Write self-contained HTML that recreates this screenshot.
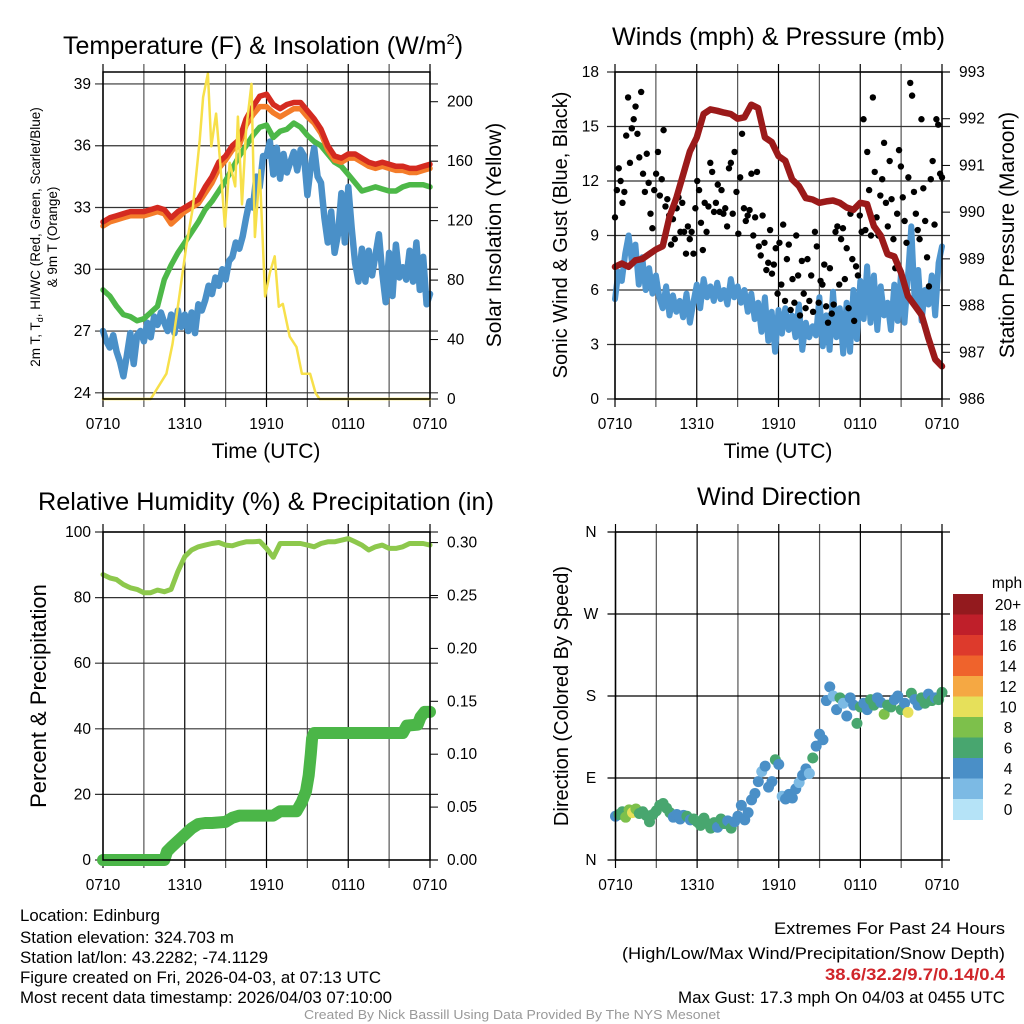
<!DOCTYPE html>
<html><head><meta charset="utf-8"><style>
html,body{margin:0;padding:0;background:#fff;}
svg{display:block;font-family:"Liberation Sans",sans-serif;}
</style></head><body>
<svg id="chart" width="1024" height="1024" viewBox="0 0 1024 1024" xmlns="http://www.w3.org/2000/svg">
<rect width="1024" height="1024" fill="#fff"/>
<g id="g1"></g>
<g id="g2"></g>
<g id="g3"></g>
<g id="g4"></g>
<text x="63" y="54" font-size="25">Temperature (F) &amp; Insolation (W/m<tspan font-size="15" dy="-10">2</tspan><tspan dy="10">)</tspan></text>
<text x="612" y="45" font-size="25" textLength="333" lengthAdjust="spacingAndGlyphs">Winds (mph) &amp; Pressure (mb)</text>
<text x="38" y="510" font-size="25" textLength="456" lengthAdjust="spacingAndGlyphs">Relative Humidity (%) &amp; Precipitation (in)</text>
<text x="697" y="505" font-size="25" textLength="164" lengthAdjust="spacingAndGlyphs">Wind Direction</text>
<g font-size="16.5">
<text x="20" y="921" textLength="140" lengthAdjust="spacingAndGlyphs">Location: Edinburg</text>
<text x="20" y="943" textLength="214" lengthAdjust="spacingAndGlyphs">Station elevation: 324.703 m</text>
<text x="20" y="963" textLength="248" lengthAdjust="spacingAndGlyphs">Station lat/lon: 43.2282; -74.1129</text>
<text x="20" y="983" textLength="361" lengthAdjust="spacingAndGlyphs">Figure created on Fri, 2026-04-03, at 07:13 UTC</text>
<text x="20" y="1003" textLength="372" lengthAdjust="spacingAndGlyphs">Most recent data timestamp: 2026/04/03 07:10:00</text>
</g>
<g font-size="17">
<text x="774" y="934" textLength="231" lengthAdjust="spacingAndGlyphs">Extremes For Past 24 Hours</text>
<text x="622" y="959" textLength="383" lengthAdjust="spacingAndGlyphs">(High/Low/Max Wind/Precipitation/Snow Depth)</text>
<text x="825" y="980" fill="#d0252a" font-weight="bold" textLength="180" lengthAdjust="spacingAndGlyphs">38.6/32.2/9.7/0.14/0.4</text>
<text x="678" y="1003" textLength="327" lengthAdjust="spacingAndGlyphs">Max Gust: 17.3 mph On 04/03 at 0455 UTC</text>
</g>
<text x="304" y="1019" font-size="13" fill="#999" textLength="416" lengthAdjust="spacingAndGlyphs">Created By Nick Bassill Using Data Provided By The NYS Mesonet</text>
</svg>
<script>
// ---------- data ----------
const xTickLabels = ["0710","1310","1910","0110","0710"];
const tempTicks = [24,27,30,33,36,39];
const solarTicks = [0,40,80,120,160,200];
const windTicks = [0,3,6,9,12,15,18];
const presTicks = [986,987,988,989,990,991,992,993];
const rhTicks = [0,20,40,60,80,100];
const precipTicks = [0,0.05,0.10,0.15,0.20,0.25,0.30];
const precipTickLabels = ["0.00","0.05","0.10","0.15","0.20","0.25","0.30"];
const dirTicks = [0,90,180,270,360];
const dirTickLabels = ["N","E","S","W","N"];
const speedBins = ["0","2","4","6","8","10","12","14","16","18","20+"];
const speedColors = ["#b5e3f7","#7cbae4","#4a8fc7","#48a66f","#7dc04b","#e6e05a","#f5a843","#ef632c","#dd3a2c","#bf1f2a","#931a1e"];

// temperatures at 30-min steps
const tempRed = [32.3,32.5,32.6,32.7,32.8,32.8,32.8,32.9,33.0,32.9,32.5,32.8,33.0,33.2,33.4,34.0,34.5,35.2,35.5,36.0,36.3,37.3,37.9,38.4,38.5,38.0,37.8,38.0,38.1,38.1,37.7,37.3,36.8,36.0,35.5,35.4,35.6,35.6,35.4,35.2,35.1,35.2,35.1,35.0,35.0,34.9,34.9,35.0,35.1];
const tempOrange = [32.1,32.3,32.4,32.5,32.6,32.6,32.6,32.7,32.8,32.7,32.2,32.5,32.8,33.0,33.2,33.7,34.2,34.9,35.3,35.8,36.0,37.0,37.5,37.9,37.9,37.6,37.4,37.6,37.8,37.8,37.4,37.1,36.6,35.8,35.3,35.2,35.4,35.4,35.2,35.0,34.9,35.0,34.9,34.8,34.8,34.7,34.7,34.8,34.9];
const tempGreen = [29.0,28.7,28.2,27.8,27.7,27.5,27.6,27.9,28.2,29.5,30.2,30.8,31.3,31.8,32.3,32.9,33.3,33.8,34.3,34.9,35.5,36.0,36.5,36.9,37.0,36.4,36.7,36.8,37.1,36.9,36.5,36.2,36.0,35.6,35.2,35.0,34.6,34.2,33.8,33.9,34.0,33.9,33.8,33.8,34.0,34.1,34.1,34.1,34.0];
// dewpoint at 15-min steps
const tempBlue = [27.0,26.5,26.2,26.8,26.0,25.5,24.8,25.8,26.9,25.4,26.8,27.0,26.5,27.4,26.7,27.7,27.3,27.9,27.4,27.0,27.8,26.9,28.0,27.2,27.8,27.0,27.9,26.9,28.3,28.0,28.5,29.2,28.8,29.6,29.2,30.0,29.5,30.4,30.6,31.3,31.0,31.6,32.5,33.3,33.0,34.5,34.0,35.5,35.5,36.2,34.6,35.9,34.4,35.6,34.7,35.2,35.7,34.8,35.8,35.5,33.6,35.0,35.9,34.5,34.2,32.5,31.3,32.8,30.8,31.7,33.7,31.3,34.0,32.0,30.3,29.4,31.0,29.4,30.9,29.7,30.7,31.7,29.8,28.4,30.8,28.7,31.2,29.6,30.1,29.5,30.9,29.4,31.3,29.0,30.6,28.3,28.8];
const solarHours = [0,3.5,4.65,5.1,5.6,6.1,6.6,7.1,7.35,7.7,7.95,8.3,8.6,8.95,9.3,9.7,9.9,10.2,10.5,10.9,11.15,11.5,11.9,12.25,12.6,12.9,13.2,13.7,14.2,14.6,15.2,15.6,15.9,24];
const solarVals = [0,0,17,37,69,102,129,174,203,219,170,192,159,116,159,143,190,131,181,212,109,154,69,85,96,62,64,42,35,17,17,4,0,0];

// wind (mph) at 15-min steps
const windSpeed = [5.5,7.0,6.5,8.0,9.0,7.5,8.5,6.3,7.8,6.0,7.2,5.8,6.8,5.6,5.0,6.2,4.6,5.7,4.8,5.4,4.5,5.8,4.2,5.3,6.3,5.0,6.6,5.6,6.2,5.4,6.4,5.5,6.0,5.2,6.6,5.6,6.2,5.3,6.0,4.8,5.8,4.4,5.3,3.7,5.6,3.2,4.8,2.6,4.9,3.6,5.0,3.8,4.6,3.4,5.2,2.7,4.2,3.4,4.0,3.5,5.6,2.9,4.6,2.7,5.9,3.4,5.0,2.5,5.3,2.6,6.0,3.3,6.5,4.4,7.3,4.2,6.8,3.8,6.2,4.6,5.3,3.8,6.3,4.3,7.0,4.2,6.7,9.5,5.2,7.1,4.3,6.0,5.2,6.8,4.6,7.5,8.4];
const windGust = [10.0,11.5,12.7,12.0,10.8,11.4,14.5,16.6,13.0,14.9,15.4,16.1,14.6,13.3,16.9,12.4,11.4,13.5,11.9,10.2,9.4,11.5,12.4,13.6,11.2,12.1,14.8,10.6,11.0,10.1,8.5,9.9,8.8,10.5,11.1,9.2,10.8,9.2,8.0,9.5,8.8,9.2,8.0,10.5,12.0,11.5,9.7,8.2,10.8,9.2,10.6,13.0,12.5,10.3,10.8,11.8,10.3,11.5,10.2,10.5,9.5,12.7,13.0,10.2,13.6,11.4,9.1,12.2,14.6,10.5,9.8,10.1,10.4,12.4,9.0,10.0,12.5,8.4,7.9,10.1,8.6,7.1,7.5,9.3,6.9,7.4,8.3,5.8,8.6,6.3,9.6,5.4,7.7,8.5,4.9,6.6,5.3,9.0,6.8,4.6,7.6,5.8,5.0,7.7,5.4,6.8,4.8,9.2,8.4,5.3,6.5,6.3,7.4,5.1,4.2,7.2,4.7,5.2,9.2,9.5,6.3,8.8,9.4,6.6,8.3,5.0,10.2,7.7,4.3,7.3,6.8,10.1,9.2,15.4,9.3,13.6,11.5,9.0,16.6,12.5,10.0,9.0,11.2,12.1,14.1,10.8,9.5,13.1,11.0,8.8,7.2,10.2,13.7,12.8,11.1,9.8,8.6,12.2,17.4,16.7,11.4,10.2,9.3,8.8,15.4,11.6,9.8,7.8,6.2,12.1,13.1,9.6,15.4,15.1,12.4,12.2];
// pressure (mb) at 30-min steps
const pressure = [988.83,988.9,988.83,988.97,989.0,989.1,989.2,989.27,989.9,990.3,990.8,991.3,991.6,992.1,992.2,992.17,992.13,992.1,992.0,992.03,992.3,992.23,991.6,991.5,991.2,991.1,990.7,990.56,990.3,990.27,990.2,990.23,990.25,990.2,990.1,990.05,990.2,990.17,989.7,989.5,989.1,989.05,988.7,988.2,988.0,987.8,987.3,986.85,986.7];

// RH (%) at 30-min steps
const rh = [87,86,85.5,84,83,82.5,81.5,81.5,82.3,81.8,82.5,88,92.5,94.5,95.5,96,96.5,96.8,96,95.8,96.5,97,97,97.2,95,92.3,96.5,96.5,96.5,96.5,96,95.5,96.5,97,97,97.5,98,97,96,94.5,95.5,96,95,95,95.5,96.5,96.5,96.5,96];
const precipHours = [0,4.5,4.7,5,5.5,6,6.5,7,7.5,8,9,9.5,10,12.5,13,14.2,14.6,14.9,15.1,15.25,15.35,15.5,22,22.3,23.1,23.3,23.6,24];
const precipVals = [0,0,0.008,0.012,0.018,0.024,0.03,0.034,0.035,0.035,0.036,0.04,0.042,0.042,0.046,0.046,0.055,0.065,0.08,0.1,0.115,0.12,0.12,0.127,0.128,0.135,0.14,0.14];

// wind direction (deg) and speed (mph) at 15-min steps
const windDir = [48,50,53,47,55,52,56,51,53,49,42,50,54,60,62,57,52,47,50,45,49,48,44,45,42,38,46,40,35,41,36,45,40,43,35,42,48,60,44,52,66,73,86,97,103,80,86,110,105,70,67,72,68,78,85,93,100,95,112,125,138,132,175,190,180,165,178,172,158,178,170,150,168,172,165,176,170,178,173,160,170,168,176,180,165,172,162,183,176,170,178,172,182,175,178,176,184];
const dirSpeed = [5,7,7,8,9,10,8,7,7,6,6,7,6,6,7,7,6,5,5,4,5,6,5,6,7,6,7,6,7,6,5,6,6,5,7,5,4,5,5,4,4,4,5,3,4,5,4,7,5,3,4,4,5,4,2,4,5,3,7,4,5,4,5,4,3,5,6,2,4,5,5,7,6,4,5,7,6,5,5,8,6,7,4,5,6,5,10,6,5,4,6,7,5,6,5,6,7];

// ---------- helpers ----------
const NS = "http://www.w3.org/2000/svg";
function mk(parent, tag, attrs, txt){
  const e = document.createElementNS(NS, tag);
  for (const k in attrs) e.setAttribute(k, attrs[k]);
  if (txt !== undefined) e.textContent = txt;
  parent.appendChild(e);
  return e;
}
function linScale(d0,d1,r0,r1){ return v => r0 + (v-d0)/(d1-d0)*(r1-r0); }
function evenHours(n){ const a=[]; for(let i=0;i<n;i++) a.push(i*24/(n-1)); return a; }

function frame(g, L, R, T, B){
  const xs = linScale(0,24,L,R);
  for (let h=0; h<=24; h+=3){
    const vl = mk(g,'line',{x1:xs(h),x2:xs(h),y1:T-8,y2:B+8,stroke:(h%6===0)?'#000':'#555','stroke-width':1.2});
    
    
  }
  xTickLabels.forEach((lab,i)=>{
    const t = mk(g,'text',{x:xs(i*6),y:B+30,'font-size':15.5,'text-anchor':'middle'},lab);
    
    
  });
  return xs;
}
function hGrid(g, L, R, y, color){
  const l = mk(g,'line',{x1:L-8,x2:R+8,y1:y,y2:y,stroke:color||'#000','stroke-width':1.2});
  
  
}
function border(g,L,R,T,B){
  const r = mk(g,'rect',{x:L,y:T,width:R-L,height:B-T,fill:'none',stroke:'#000','stroke-width':1.5});
  
  
}
function pathFrom(xsArr, ysArr){
  return xsArr.map((x,i)=>(i?'L':'M')+x.toFixed(1)+','+ysArr[i].toFixed(1)).join('');
}
function line(g, hours, vals, xs, ys, color, w, name){
  const p = mk(g,'path',{d:pathFrom(hours.map(xs), vals.map(ys)),fill:'none',stroke:color,'stroke-width':w,'stroke-linejoin':'round','stroke-linecap':'round'});
  
  
}
function rotText(g, x, y, size, txt, name){
  const t = mk(g,'text',{x:x,y:y,'font-size':size,'text-anchor':'middle',transform:`rotate(-90 ${x} ${y})`},txt);
  
  
  return t;
}
function tickLabel(g,x,y,txt,anchor,name){
  const t = mk(g,'text',{x:x,y:y+5,'font-size':15.5,'text-anchor':anchor},txt);
  
  
}
function rightTick(g,R,y,len){
  const l = mk(g,'line',{x1:R,x2:R+len,y1:y,y2:y,stroke:'#000','stroke-width':1});
  
  
}

// ---------- panel 1 ----------
(function(){
  const g = document.getElementById('g1');
  const L=103,R=430,T=72,B=399;
  const xs = frame(g,L,R,T,B);
  const yT = linScale(23.7,39.58,B,T);
  const yS = linScale(0,220,B,T);
  tempTicks.forEach(v=>{ hGrid(g,L,R,yT(v), '#333'); tickLabel(g,L-12,yT(v),String(v),'end','temp-tick-label'); });
  solarTicks.forEach(v=>{ rightTick(g,R,yS(v),8); tickLabel(g,R+17,yS(v),String(v),'start','solar-tick-label'); });
  line(g, evenHours(tempBlue.length), tempBlue, xs, yT, '#4a90c8', 6.5, 'dewpoint-line');
  line(g, evenHours(tempGreen.length), tempGreen, xs, yT, '#4db848', 5.5, 'hi-wc-line');
  line(g, evenHours(tempOrange.length), tempOrange, xs, yT, '#f47c2a', 5.5, 'temp-9m-line');
  line(g, evenHours(tempRed.length), tempRed, xs, yT, '#d42a20', 5.5, 'temp-2m-line');
  line(g, solarHours, solarVals, xs, yS, '#f7e04a', 2.5, 'solar-line');
  border(g,L,R,T,B);
  const t = mk(g,'text',{x:40,y:237,'font-size':13.5,'text-anchor':'middle',transform:'rotate(-90 40 237)'});
  
  
  t.innerHTML = '2m T, T<tspan font-size="9" dy="3">d</tspan><tspan dy="-3">, HI/WC (Red, Green, Scarlet/Blue)</tspan>';
  rotText(g,57,237,13.5,'& 9m T (Orange)','temp-y-axis-title-2');
  rotText(g,501,235,21,'Solar Insolation (Yellow)','solar-y-axis-title');
  const xt = mk(g,'text',{x:266,y:458,'font-size':21,'text-anchor':'middle'},'Time (UTC)');
  
  
})();

// ---------- panel 2 ----------
(function(){
  const g = document.getElementById('g2');
  const L=615,R=942,T=72,B=399;
  const xs = frame(g,L,R,T,B);
  const yW = linScale(0,18,B,T);
  const yP = linScale(986,993,B,T);
  windTicks.forEach(v=>{ hGrid(g,L,R,yW(v),'#333'); tickLabel(g,L-16,yW(v),String(v),'end','wind-tick-label'); });
  presTicks.forEach(v=>{ rightTick(g,R,yP(v),8); tickLabel(g,R+17,yP(v),String(v),'start','pressure-tick-label'); });
  line(g, evenHours(windSpeed.length), windSpeed, xs, yW, '#4f96cf', 6, 'wind-speed-line');
  const gh = evenHours(windGust.length);
  windGust.forEach((v,i)=>{
    const c = mk(g,'circle',{cx:xs(gh[i]),cy:yW(v),r:3.2,fill:'#000'});
    
    
  });
  line(g, evenHours(pressure.length), pressure, xs, yP, '#9b1a1a', 6.5, 'pressure-line');
  border(g,L,R,T,B);
  rotText(g,567,235,20,'Sonic Wind & Gust (Blue, Black)','wind-y-axis-title');
  rotText(g,1014,235,21,'Station Pressure (Maroon)','pressure-y-axis-title');
  const xt = mk(g,'text',{x:778,y:458,'font-size':21,'text-anchor':'middle'},'Time (UTC)');
  
  
})();

// ---------- panel 3 ----------
(function(){
  const g = document.getElementById('g3');
  const L=103,R=430,T=532,B=860;
  const xs = frame(g,L,R,T,B);
  const yR = linScale(0,100,B,T);
  const yPr = linScale(0,0.31,B,T);
  rhTicks.forEach(v=>{ hGrid(g,L,R,yR(v),'#333'); tickLabel(g,L-12,yR(v),String(v),'end','rh-tick-label'); });
  precipTicks.forEach((v,i)=>{ rightTick(g,R,yPr(v),8); tickLabel(g,R+17,yPr(v),precipTickLabels[i],'start','precip-tick-label'); });
  line(g, evenHours(rh.length), rh, xs, yR, '#8dc84c', 5, 'rh-line');
  line(g, precipHours, precipVals, xs, yPr, '#4bb648', 12, 'precip-line');
  border(g,L,R,T,B);
  rotText(g,46,696,22,'Percent & Precipitation','rh-y-axis-title');
})();

// ---------- panel 4 ----------
(function(){
  const g = document.getElementById('g4');
  const L=615.5,R=942,T=532,B=860;
  const xs = frame(g,L,R,T,B);
  const yD = linScale(0,360,B,T);
  dirTicks.forEach((v,i)=>{ hGrid(g,L,R,yD(v),'#000'); tickLabel(g,591,yD(v),dirTickLabels[i],'middle','direction-tick-label'); });
  const dh = evenHours(windDir.length);
  windDir.forEach((v,i)=>{
    const bin = Math.min(10, Math.floor(dirSpeed[i]/2));
    const c = mk(g,'circle',{cx:xs(dh[i]),cy:yD(v),r:5.5,fill:speedColors[bin]});
    
    
  });
  border(g,L,R,T,B);
  rotText(g,568,696,20,'Direction (Colored By Speed)','direction-y-axis-title');
  const cbTop=594, cbH=20.5;
  const mph = mk(g,'text',{x:1007,y:588,'font-size':15.5,'text-anchor':'middle'},'mph');
  
  
  for (let k=0;k<speedBins.length;k++){
    const idx = speedBins.length-1-k;
    const r = mk(g,'rect',{x:953,y:cbTop+k*cbH,width:30,height:cbH+0.5,fill:speedColors[idx]});
    
    
    const t = mk(g,'text',{x:1008,y:cbTop+k*cbH+cbH/2+5.5,'font-size':15.5,'text-anchor':'middle'},speedBins[idx]);
    
    
  }
})();
</script>
</body></html>
